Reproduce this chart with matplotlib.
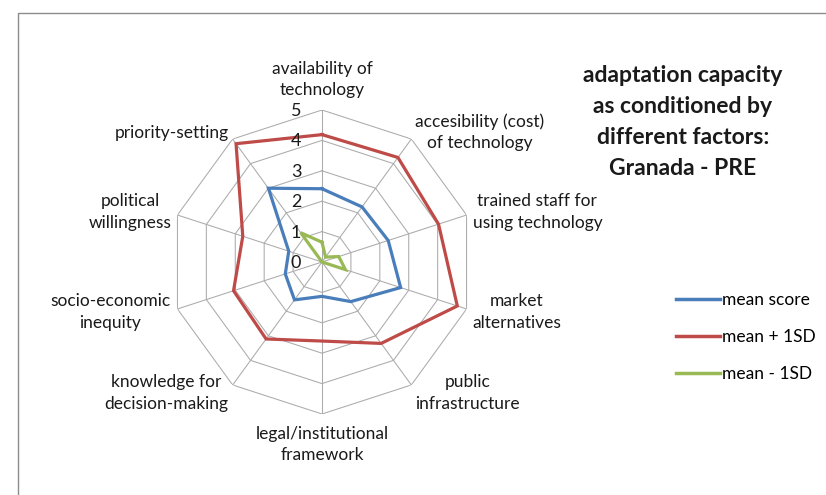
import numpy as np
import matplotlib
matplotlib.use("Agg")
import matplotlib.pyplot as plt
from matplotlib.patches import Rectangle

categories = [
    "availability of\ntechnology",
    "accesibility (cost)\nof technology",
    "trained staff for\nusing technology",
    "market\nalternatives",
    "public\ninfrastructure",
    "legal/institutional\nframework",
    "knowledge for\ndecision-making",
    "socio-economic\ninequity",
    "political\nwillingness",
    "priority-setting",
]
mean_score = [2.41, 2.24, 2.29, 2.72, 1.61, 1.13, 1.54, 1.27, 1.15, 3.0]
mean_plus = [4.19, 4.25, 4.03, 4.68, 3.31, 2.6, 3.13, 3.06, 2.74, 4.81]
mean_minus = [0.65, 0.2, 0.58, 0.81, 0.0, 0.0, 0.0, 0.0, 0.0, 1.19]
series_names = ["mean score", "mean + 1SD", "mean - 1SD"]
series_colors = ["#4a7ebb", "#be4b48", "#98b954"]
ticks = [0, 1, 2, 3, 4, 5]
title = "adaptation capacity\nas conditioned by\ndifferent factors:\nGranada - PRE"

plt.rcParams['font.family'] = ['Lato', 'DejaVu Sans']

W, H = 826, 495
fig = plt.figure(figsize=(W / 100, H / 100), dpi=100)

# chart border
fig.add_artist(Rectangle((18 / W, -0.1), 1.2, 1 - 13 / H + 0.1, transform=fig.transFigure,
                         fill=False, edgecolor="#8c8c8c", lw=1.0))

cx, cy, R = 322, 262, 152
ax = fig.add_axes([(cx - R) / W, 1 - (cy + R) / H, 2 * R / W, 2 * R / H], projection="polar")
ax.set_theta_zero_location("N")
ax.set_theta_direction(-1)
ax.set_ylim(0, 5)
ax.grid(False)
ax.spines["polar"].set_visible(False)
ax.set_xticks([])
ax.set_yticks([])
ax.patch.set_alpha(0)

n = len(categories)
theta = np.arange(n) * 2 * np.pi / n
theta_c = np.append(theta, theta[0])

grid_col = "#ababab"
for k in ticks[1:]:
    ax.plot(theta_c, [k] * (n + 1), color=grid_col, lw=0.75, zorder=1)
for t in theta:
    ax.plot([t, t], [0, 5], color=grid_col, lw=0.75, zorder=1)

for vals, col, name in zip([mean_score, mean_plus, mean_minus], series_colors, series_names):
    v = np.append(vals, vals[0])
    ax.plot(theta_c, v, color=col, lw=2.3, label=name, zorder=3, solid_joinstyle="miter")

# tick labels
for k in ticks:
    ax.annotate(str(k), xy=(0, k), xytext=(-26 * 0.72, -1 * 0.72), textcoords="offset points",
                ha="center", va="center", fontsize=13, color="#1a1a1a", annotation_clip=False)

# category labels (offsets in pixels)
offsets = [
    ((0, 12), "center", "bottom"),
    ((4, 7), "left", "center"),
    ((6, 3), "left", "center"),
    ((6, -3), "left", "center"),
    ((4, -8), "left", "center"),
    ((0, -12), "center", "top"),
    ((-4, -8), "right", "center"),
    ((-7, -3), "right", "center"),
    ((-6, 3), "right", "center"),
    ((-4, 6), "right", "center"),
]
for t, lab, (off, ha, va) in zip(theta, categories, offsets):
    ax.annotate(lab, xy=(t, 5), xytext=(off[0] * 0.72, off[1] * 0.72), textcoords="offset points",
                ha=ha, va=va, multialignment="center", fontsize=12.5, color="#1a1a1a",
                linespacing=1.42, annotation_clip=False)

fig.text(683 / W, 1 - 122 / H, title, ha="center", va="center", fontsize=16.5, fontweight="bold",
         color="#1a1a1a", linespacing=1.6)

handles, labels = ax.get_legend_handles_labels()
leg = fig.legend(handles, labels, loc="center left", bbox_to_anchor=(667 / W, 1 - 337 / H),
                 frameon=False, fontsize=12.5, handlelength=2.55, handletextpad=0.1,
                 labelspacing=1.2, borderpad=0)
for line in leg.get_lines():
    line.set_linewidth(2.5)

fig.savefig("out.png", dpi=100)
